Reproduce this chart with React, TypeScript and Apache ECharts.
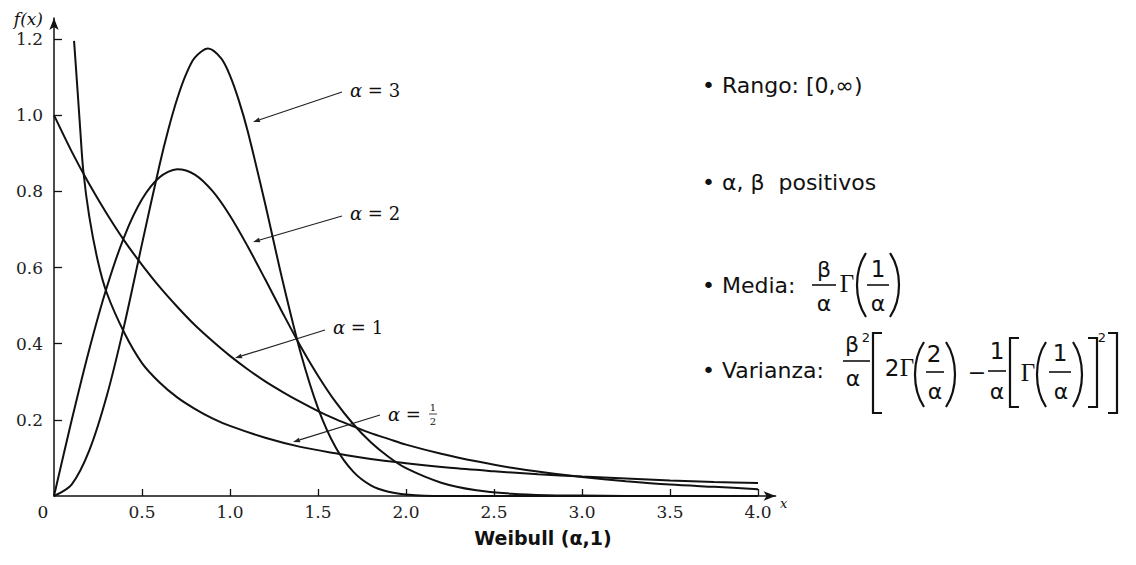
import React, { useEffect, useRef } from "react";
import * as echarts from "echarts";

// ---- data ----
const xs = [0, 0.1, 0.2, 0.3, 0.4, 0.5, 0.6, 0.7, 0.8, 0.9, 1.0, 1.1, 1.2, 1.3, 1.4, 1.5, 1.6, 1.7, 1.8, 1.9, 2.0, 2.2, 2.4, 2.6, 2.8, 3.0, 3.25, 3.5, 3.75, 4.0];
const alphaOne = [1.0, 0.905, 0.819, 0.741, 0.67, 0.607, 0.549, 0.497, 0.449, 0.407, 0.368, 0.333, 0.301, 0.273, 0.247, 0.223, 0.202, 0.183, 0.165, 0.15, 0.135, 0.111, 0.091, 0.074, 0.061, 0.05, 0.039, 0.03, 0.024, 0.018];
const alphaTwo = [0, 0.198, 0.384, 0.548, 0.682, 0.779, 0.837, 0.858, 0.844, 0.801, 0.736, 0.656, 0.569, 0.48, 0.394, 0.316, 0.247, 0.189, 0.141, 0.103, 0.073, 0.035, 0.015, 0.006, 0.002, 0.001, 0, 0, 0, 0];
const threeX = [0, 0.1, 0.2, 0.3, 0.4, 0.5, 0.6, 0.65, 0.7, 0.75, 0.8, 0.875, 0.95, 1.0, 1.05, 1.1, 1.2, 1.3, 1.4, 1.5, 1.6, 1.7, 1.8, 1.9, 2.0, 2.2, 2.5, 3.0, 3.5, 4.0];
const alphaThree = [0, 0.03, 0.119, 0.263, 0.45, 0.662, 0.87, 0.963, 1.043, 1.107, 1.151, 1.175, 1.149, 1.104, 1.039, 0.959, 0.767, 0.563, 0.378, 0.231, 0.128, 0.064, 0.028, 0.011, 0.004, 0, 0, 0, 0, 0];
const halfX = [0.114, 0.13, 0.148, 0.166, 0.2, 0.25, 0.3, 0.4, 0.5, 0.6, 0.7, 0.8, 0.9, 1.0, 1.2, 1.4, 1.6, 1.8, 2.0, 2.25, 2.5, 2.75, 3.0, 3.25, 3.5, 3.75, 4.0];
const alphaHalf = [1.195, 1.09, 0.97, 0.856, 0.735, 0.615, 0.533, 0.428, 0.349, 0.298, 0.259, 0.229, 0.204, 0.184, 0.153, 0.129, 0.112, 0.097, 0.086, 0.074, 0.065, 0.057, 0.051, 0.046, 0.041, 0.037, 0.034];

const xTickValues = [0.5, 1.0, 1.5, 2.0, 2.5, 3.0, 3.5, 4.0];
const yTickValues = [0.2, 0.4, 0.6, 0.8, 1.0, 1.2];

const bulletLines = ["• Rango: [0,∞)", "• α, β  positivos", "• Media:", "• Varianza:"];
const chartTitle = "Weibull (α,1)";

const INK = "#111";
const SERIF = "DejaVu Serif";
const SANS = "DejaVu Sans";

function pairs(x: number[], y: number[]) {
  return x.map((v, i) => [v, y[i]]);
}

function arrowAnno(x1: number, y1: number, x2: number, y2: number) {
  const dx = x2 - x1;
  const dy = y2 - y1;
  const len = Math.sqrt(dx * dx + dy * dy);
  const ux = dx / len;
  const uy = dy / len;
  const bx = x2 - ux * 7;
  const by = y2 - uy * 7;
  const nx = -uy * 2.4;
  const ny = ux * 2.4;
  return [
    { type: "line", silent: true, shape: { x1, y1, x2: bx, y2: by }, style: { stroke: "#222", lineWidth: 1.2 } },
    {
      type: "polygon",
      silent: true,
      shape: { points: [[x2, y2], [bx + nx, by + ny], [bx - nx, by - ny]] },
      style: { fill: "#222" },
    },
  ];
}

function txt(text: string, x: number, y: number, opts: any = {}) {
  return {
    type: "text",
    silent: true,
    x,
    y,
    style: {
      text,
      fill: INK,
      fontSize: opts.fontSize || 22,
      fontFamily: opts.fontFamily || SANS,
      fontStyle: opts.fontStyle || "normal",
      fontWeight: opts.fontWeight || "normal",
      align: opts.align || "center",
      verticalAlign: opts.verticalAlign || "middle",
    },
  };
}

function bar(x1: number, x2: number, y: number) {
  return { type: "line", silent: true, shape: { x1, y1: y, x2, y2: y }, style: { stroke: INK, lineWidth: 1.6 } };
}

function paren(x0: number, x1: number, top: number, bottom: number, left: boolean) {
  const h = bottom - top;
  const edge = left ? x1 : x0;
  const bulge = left ? x0 - 2 : x1 + 2;
  return {
    type: "bezierCurve",
    silent: true,
    shape: { x1: edge, y1: top, x2: edge, y2: bottom, cpx1: bulge, cpy1: top + h * 0.28, cpx2: bulge, cpy2: bottom - h * 0.28 },
    style: { stroke: INK, lineWidth: 2.2, fill: "none" },
  };
}

function bracket(x0: number, x1: number, top: number, bottom: number, left: boolean) {
  const v = left ? x0 : x1;
  const e = left ? x1 : x0;
  return {
    type: "polyline",
    silent: true,
    shape: { points: [[e, top], [v, top], [v, bottom], [e, bottom]] },
    style: { stroke: INK, lineWidth: 2.2, fill: "none" },
  };
}

function alphaLabel(rest: string, x: number, y: number) {
  return {
    type: "text",
    silent: true,
    x,
    y,
    style: {
      text: "{a|α}" + rest,
      fill: INK,
      fontSize: 18,
      fontFamily: SERIF,
      align: "left",
      verticalAlign: "middle",
      rich: { a: { fontStyle: "italic", fontSize: 18, fontFamily: SERIF, fill: INK } },
    },
  };
}

export default function App() {
  const ref = useRef<HTMLDivElement>(null);

  useEffect(() => {
    if (!ref.current) return;
    const chart = echarts.init(ref.current, undefined, { renderer: "svg" });

    const axisLineStyle = { color: INK, width: 1.5 };
    const labelStyle = { fontFamily: SERIF, fontSize: 17, color: "#222" };

    const graphic: any[] = [
      // axis names
      txt("f(x)", 43, 19, { fontFamily: SERIF, fontStyle: "italic", fontSize: 17, align: "right" }),
      txt("x", 780, 503, { fontFamily: SERIF, fontStyle: "italic", fontSize: 13, align: "left" }),
      txt("0", 43, 512, { fontFamily: SERIF, fontSize: 17 }),
      // curve annotations
      alphaLabel(" = 3", 350, 90),
      ...arrowAnno(342, 92, 253, 122),
      alphaLabel(" = 2", 350, 213),
      ...arrowAnno(342, 216, 253, 242),
      alphaLabel(" = 1", 333, 327),
      ...arrowAnno(325, 330, 235, 358),
      alphaLabel(" =", 388, 414),
      txt("1", 433, 407, { fontFamily: SERIF, fontSize: 10 }),
      { type: "line", silent: true, shape: { x1: 429, y1: 414, x2: 437, y2: 414 }, style: { stroke: INK, lineWidth: 0.8 } },
      txt("2", 433, 421, { fontFamily: SERIF, fontSize: 10 }),
      ...arrowAnno(380, 415, 293, 442),
      // title under the axis
      txt(chartTitle, 543, 538, { fontFamily: SANS, fontWeight: "bold", fontSize: 19 }),
      // bullet list
      txt(bulletLines[0], 702, 85, { align: "left" }),
      txt(bulletLines[1], 702, 182, { align: "left" }),
      txt(bulletLines[2], 702, 285, { align: "left" }),
      txt(bulletLines[3], 702, 370, { align: "left" }),
      // Media formula
      txt("β", 824, 269),
      bar(812, 836, 285),
      txt("α", 824, 303),
      txt("Γ", 847, 283, { fontFamily: "Liberation Serif", fontSize: 25 }),
      paren(856, 866, 253, 317, true),
      txt("1", 878, 269, { fontSize: 23 }),
      bar(867, 889, 285),
      txt("α", 878, 303),
      paren(890, 900, 253, 317, false),
      // Varianza formula
      txt("β", 852, 344),
      txt("2", 866, 337, { fontSize: 13 }),
      bar(843, 870, 361),
      txt("α", 853, 378),
      bracket(873, 882, 333, 413, true),
      txt("2", 892, 368, { fontSize: 23 }),
      txt("Γ", 907, 367, { fontFamily: "Liberation Serif", fontSize: 25 }),
      paren(914, 924, 342, 407, true),
      txt("2", 934, 354, { fontSize: 23 }),
      bar(926, 944, 372),
      txt("α", 935, 391),
      paren(946, 956, 342, 407, false),
      txt("−", 977, 372),
      txt("1", 997, 351, { fontSize: 23 }),
      bar(988, 1006, 371),
      txt("α", 997, 391),
      bracket(1010, 1019, 338, 407, true),
      txt("Γ", 1028, 372, { fontFamily: "Liberation Serif", fontSize: 25 }),
      paren(1036, 1046, 342, 407, true),
      txt("1", 1060, 353, { fontSize: 23 }),
      bar(1049, 1071, 372),
      txt("α", 1061, 391),
      paren(1073, 1083, 342, 407, false),
      bracket(1088, 1097, 338, 407, false),
      txt("2", 1102, 337, { fontSize: 13 }),
      bracket(1108, 1117, 333, 413, false),
    ];

    const lineSeries = (name: string, data: number[][]) => ({
      name,
      type: "line",
      data,
      showSymbol: false,
      smooth: 0.3,
      lineStyle: { color: INK, width: 2 },
      silent: true,
      z: 3,
    });

    chart.setOption({
      animation: false,
      backgroundColor: "#ffffff",
      grid: { left: 54, top: 18, width: 721.6, height: 478, containLabel: false, outerBoundsMode: "none" },
      xAxis: {
        type: "value",
        min: 0,
        max: 4.1,
        axisLine: { show: true, onZero: false, lineStyle: axisLineStyle, symbol: ["none", "arrow"], symbolSize: [7, 12] },
        axisTick: { show: true, inside: true, length: 7, lineStyle: { color: INK, width: 1.3 }, customValues: xTickValues },
        axisLabel: { ...labelStyle, margin: 7, customValues: xTickValues, formatter: (v: number) => v.toFixed(1) },
        splitLine: { show: false },
      },
      yAxis: {
        type: "value",
        min: 0,
        max: 1.2552,
        axisLine: { show: true, onZero: false, lineStyle: axisLineStyle, symbol: ["none", "arrow"], symbolSize: [7, 12] },
        axisTick: { show: true, inside: true, length: 8, lineStyle: { color: INK, width: 1.3 }, customValues: yTickValues },
        axisLabel: { ...labelStyle, margin: 11, customValues: yTickValues, formatter: (v: number) => v.toFixed(1) },
        splitLine: { show: false },
      },
      series: [
        lineSeries("α = 1/2", pairs(halfX, alphaHalf)),
        lineSeries("α = 1", pairs(xs, alphaOne)),
        lineSeries("α = 2", pairs(xs, alphaTwo)),
        lineSeries("α = 3", pairs(threeX, alphaThree)),
      ],
      graphic,
    });

    return () => chart.dispose();
  }, []);

  return (
    <div
      ref={ref}
      style={{ position: "absolute", left: 0, top: 0, width: 1136, height: 565, background: "#fff" }}
    />
  );
}
